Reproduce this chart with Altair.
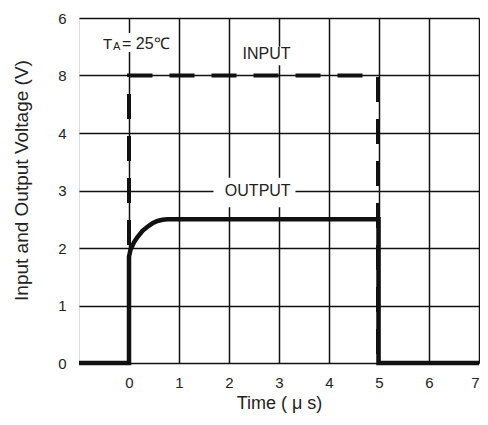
import altair as alt
import pandas as pd

# ---- data ----
out_t = [-1, 0, 0, 0.03, 0.1, 0.17, 0.27, 0.37, 0.47, 0.57, 0.67, 0.77, 4.99, 4.99, 7]
out_v = [0, 0, 1.85, 1.97, 2.1, 2.19, 2.3, 2.37, 2.43, 2.47, 2.49, 2.5, 2.5, 0, 0]
in_t = [-1, 0, 0, 4.98, 4.98, 7]
in_v = [0, 0, 5, 5, 0, 0]

x_ticks = [0, 1, 2, 3, 4, 5, 6, 7]
y_ticks = [0, 1, 2, 3, 4, 5, 6]
y_labels = ["0", "1", "2", "3", "4", "8", "6"]

label_text = ["INPUT", "OUTPUT"]
label_x = [2.75, 2.575]
label_y = [5.37, 3.0]

# white boxes behind the annotations (data units)
box_x1 = [-0.58, 2.26, 1.69]
box_x2 = [0.95, 3.25, 3.33]
box_y1 = [5.41, 5.18, 2.71]
box_y2 = [5.74, 5.5, 3.22]

FONT = "Liberation Sans"
INK = "#111111"

out_df = pd.DataFrame({"t": out_t, "v": out_v, "i": range(len(out_t))})
in_df = pd.DataFrame({"t": in_t, "v": in_v, "i": range(len(in_t))})
lab_df = pd.DataFrame({"text": label_text, "x": label_x, "y": label_y})
box_df = pd.DataFrame({"x1": box_x1, "x2": box_x2, "y1": box_y1, "y2": box_y2})
ta_df = pd.DataFrame({"x": [-0.52], "y": [5.54]})
ta_sub_df = pd.DataFrame({"x": [-0.32], "y": [5.49]})
ta_rest_df = pd.DataFrame({"x": [-0.14], "y": [5.54]})

xscale = alt.Scale(domain=[-1, 7], nice=False, zero=False)
yscale = alt.Scale(domain=[0, 6], nice=False, zero=False)

label_expr = "[" + ",".join("'%s'" % s for s in y_labels) + "][datum.value]"

xaxis = alt.Axis(values=x_ticks, grid=True, gridColor=INK, gridWidth=1.5,
                 ticks=False, domain=False, labelPadding=12, labelFontSize=15,
                 labelFont=FONT, labelColor="#222", title="Time ( μ s)",
                 titleFont=FONT, titleFontSize=18, titleFontWeight="normal",
                 titleColor="#222", titlePadding=4)
yaxis = alt.Axis(values=y_ticks, grid=True, gridColor=INK, gridWidth=1.5,
                 ticks=False, domain=False, labelPadding=13, labelFontSize=15,
                 labelFont=FONT, labelColor="#222", labelExpr=label_expr,
                 title="Input and Output Voltage (V)", titleFont=FONT,
                 titleFontSize=19, titleFontWeight="normal", titleColor="#222",
                 titlePadding=26, titleY=162)

boxes = alt.Chart(box_df).mark_rect(color="white").encode(
    x=alt.X("x1:Q", scale=xscale, axis=xaxis),
    x2="x2:Q",
    y=alt.Y("y1:Q", scale=yscale, axis=yaxis),
    y2="y2:Q",
)

inp = alt.Chart(in_df).mark_line(color=INK, strokeWidth=4, strokeDash=[25, 17],
                                 strokeCap="butt").encode(
    x=alt.X("t:Q", scale=xscale), y=alt.Y("v:Q", scale=yscale), order="i:Q")

outp = alt.Chart(out_df).mark_line(color=INK, strokeWidth=4.5,
                                   strokeJoin="miter").encode(
    x=alt.X("t:Q", scale=xscale), y=alt.Y("v:Q", scale=yscale), order="i:Q")

labels = alt.Chart(lab_df).mark_text(font=FONT, fontSize=16, color="#222",
                                     align="center", baseline="middle").encode(
    x=alt.X("x:Q", scale=xscale), y=alt.Y("y:Q", scale=yscale), text="text:N")

ta_t = alt.Chart(ta_df).mark_text(font=FONT, fontSize=15, color="#222", align="left",
                                  baseline="middle", text="T").encode(
    x=alt.X("x:Q", scale=xscale), y=alt.Y("y:Q", scale=yscale))
ta_a = alt.Chart(ta_sub_df).mark_text(font=FONT, fontSize=11, color="#222", align="left",
                                      baseline="middle", text="A").encode(
    x=alt.X("x:Q", scale=xscale), y=alt.Y("y:Q", scale=yscale))
ta_r = alt.Chart(ta_rest_df).mark_text(font=FONT, fontSize=16, color="#222", align="left",
                                       baseline="middle", text="= 25℃").encode(
    x=alt.X("x:Q", scale=xscale), y=alt.Y("y:Q", scale=yscale))

chart = alt.layer(boxes, inp, outp, labels, ta_t, ta_a, ta_r).properties(
    width=400, height=345,
    autosize=alt.AutoSizeParams(type="none"),
    padding={"left": 71, "top": 10, "right": 1, "bottom": 51},
).configure_view(stroke=INK, strokeWidth=3.5).configure(background="white")

chart.save("out.html", embed_options={"renderer": "svg", "actions": False})
